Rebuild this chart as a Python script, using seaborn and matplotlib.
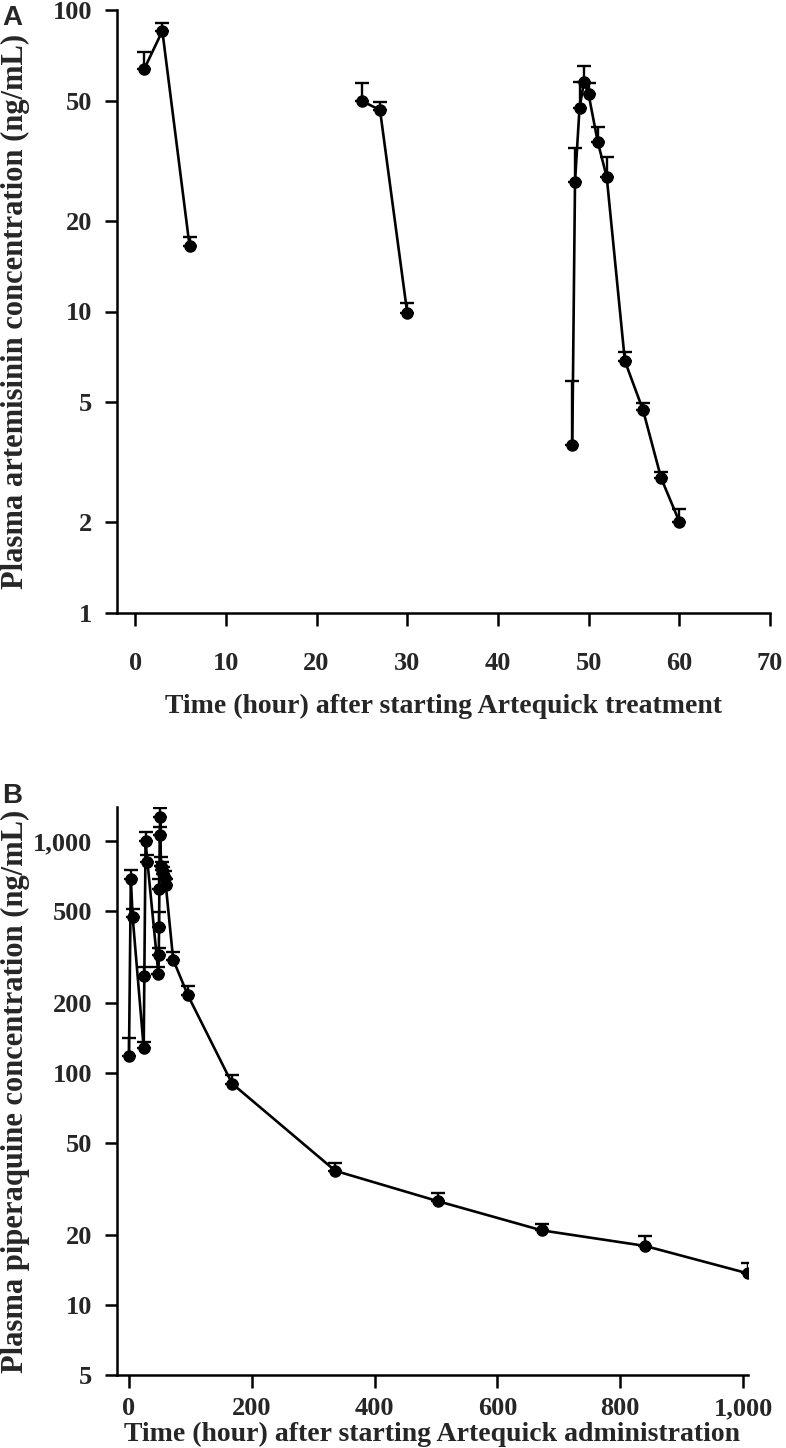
#!/usr/bin/env python3
"""
Plasma artemisinin (A) and piperaquine (B) concentration-time curves
after Artequick, log y axis with upper error caps.
"""

import logging

import numpy as np
import pandas as pd
import matplotlib
matplotlib.use("Agg")
import matplotlib.pyplot as plt
from matplotlib.ticker import FixedLocator, NullLocator, FuncFormatter
import seaborn as sns

logger = logging.getLogger(__name__)
logging.getLogger("matplotlib").setLevel(logging.WARNING)

# --- Panel A: artemisinin, one segment per dose ---
ART_TIME = [1, 3, 6, 25, 27, 30, 48.2, 48.5, 49, 49.5, 50, 51, 52, 54, 56, 58, 60]
ART_DOSE = [1, 1, 1, 2, 2, 2, 3, 3, 3, 3, 3, 3, 3, 3, 3, 3, 3]
ART_MEAN = [63.7, 85.2, 16.5, 49.9, 46.6, 9.9, 3.6, 26.9, 47.4, 57.8, 52.5,
            36.6, 27.9, 6.85, 4.71, 2.80, 2.01]
ART_UPPER = [72.6, 90.5, 17.7, 57.3, 49.5, 10.7, 5.9, 34.9, 57.8, 65.4, 57.1,
             41.0, 32.5, 7.36, 4.98, 2.94, 2.21]

# --- Panel B: piperaquine ---
PIP_TIME = [0, 3, 6, 24, 25, 27, 30, 48, 48.5, 49, 49.5, 50, 51, 52, 54, 56,
            58, 60, 72, 96, 168, 336, 504, 672, 840, 1008]
PIP_MEAN = [118, 683, 470, 128, 261, 1000, 815, 266, 322, 425, 622, 1057, 1266,
            780, 750, 720, 690, 644, 308, 216, 90, 37.9, 28.0, 21.0, 18.0, 13.7]
PIP_UPPER = [141, 752, 509, 136, 287, 1094, 870, 285, 347, 496, 683, 1153, 1390,
             850, 810, 775, 740, 683, 333, 236, 98, 41.0, 30.5, 22.4, 19.9, 15.2]

A_YTICKS = [1, 2, 5, 10, 20, 50, 100]
A_XTICKS = [0, 10, 20, 30, 40, 50, 60, 70]
B_YTICKS = [5, 10, 20, 50, 100, 200, 500, 1000]
B_XTICKS = [0, 200, 400, 600, 800, 1000]

W, H = 786, 1448
FONT = ["Liberation Serif", "DejaVu Serif"]
TICK_SIZE = 19
XLABEL_SIZE = 20
YLABEL_SIZE = 22


def thousands(v, _pos=None):
    return f"{int(round(v)):,}"


def style_axis(ax):
    sns.despine(ax=ax)
    for side in ("left", "bottom"):
        ax.spines[side].set_linewidth(1.8)
        ax.spines[side].set_color("black")
    ax.tick_params(axis="both", which="major", direction="out", length=9,
                   width=1.8, color="black", labelsize=TICK_SIZE)
    ax.tick_params(axis="y", pad=9)
    ax.yaxis.set_minor_locator(NullLocator())
    ax.xaxis.set_minor_locator(NullLocator())
    for lab in ax.get_xticklabels() + ax.get_yticklabels():
        lab.set_fontweight("bold")
        lab.set_family(FONT)
    ax.grid(False)


def draw_profile(ax, df, units=None):
    sns.lineplot(data=df, x="time", y="conc", units=units, estimator=None,
                 color="black", linewidth=1.9, marker="o", markersize=9,
                 markeredgewidth=0, ax=ax, legend=False)
    upper = df["upper"].to_numpy() - df["conc"].to_numpy()
    ax.errorbar(df["time"], df["conc"], yerr=[np.zeros_like(upper), upper],
                fmt="none", ecolor="black", elinewidth=1.7, capsize=5,
                capthick=1.7)


def set_ylabel_left(ax, text, x_px):
    ax.set_ylabel(text, fontsize=YLABEL_SIZE, fontweight="bold", va="center")
    # x in figure pixels -> axes fraction
    left_px = ax.get_position().x0 * W
    ax.yaxis.set_label_coords((x_px - left_px) / (ax.get_position().width * W), 0.5)


def main():
    sns.set_theme(style="ticks")
    plt.rcParams["font.family"] = FONT
    plt.rcParams["font.weight"] = "bold"

    fig = plt.figure(figsize=(W / 100, H / 100), dpi=100)

    # Panel A
    ax_a = fig.add_axes([117 / W, 1 - 613 / H, (770 - 117) / W, (613 - 10) / H])
    df_a = pd.DataFrame({"time": ART_TIME, "dose": ART_DOSE,
                         "conc": ART_MEAN, "upper": ART_UPPER})
    ax_a.set_yscale("log")
    draw_profile(ax_a, df_a, units="dose")
    ax_a.set_xlim(-2, 70)
    ax_a.set_ylim(1, 100)
    ax_a.yaxis.set_major_locator(FixedLocator(A_YTICKS))
    ax_a.yaxis.set_major_formatter(FuncFormatter(thousands))
    ax_a.xaxis.set_major_locator(FixedLocator(A_XTICKS))
    ax_a.xaxis.set_major_formatter(FuncFormatter(thousands))
    style_axis(ax_a)
    ax_a.tick_params(axis="x", pad=19)
    ax_a.set_xlabel("Time (hour) after starting Artequick treatment",
                    fontsize=XLABEL_SIZE, fontweight="bold", labelpad=14)
    set_ylabel_left(ax_a, "Plasma artemisinin concentration (ng/mL)", 15)

    # Panel B
    ax_b = fig.add_axes([117 / W, 1 - 1375 / H, (748 - 117) / W, (1375 - 807) / H])
    df_b = pd.DataFrame({"time": PIP_TIME, "conc": PIP_MEAN, "upper": PIP_UPPER})
    ax_b.set_yscale("log")
    draw_profile(ax_b, df_b)
    ax_b.set_xlim(-19.5, 1008)
    ax_b.set_ylim(5, 1400)
    ax_b.yaxis.set_major_locator(FixedLocator(B_YTICKS))
    ax_b.yaxis.set_major_formatter(FuncFormatter(thousands))
    ax_b.xaxis.set_major_locator(FixedLocator(B_XTICKS))
    ax_b.xaxis.set_major_formatter(FuncFormatter(thousands))
    style_axis(ax_b)
    ax_b.tick_params(axis="x", pad=7)
    ax_b.set_xlabel("Time (hour) after starting Artequick administration",
                    fontsize=XLABEL_SIZE, fontweight="bold", labelpad=1)
    set_ylabel_left(ax_b, "Plasma piperaquine concentration (ng/mL)", 15)

    fig.text(2 / W, 1 - 18 / H, "A", fontsize=20, fontweight="bold",
             family=["Liberation Sans", "DejaVu Sans"], va="center", ha="left")
    fig.text(2 / W, 1 - 796 / H, "B", fontsize=20, fontweight="bold",
             family=["Liberation Sans", "DejaVu Sans"], va="center", ha="left")

    fig.savefig("out.png", dpi=100)
    logger.info("saved out.png")


if __name__ == "__main__":
    main()
